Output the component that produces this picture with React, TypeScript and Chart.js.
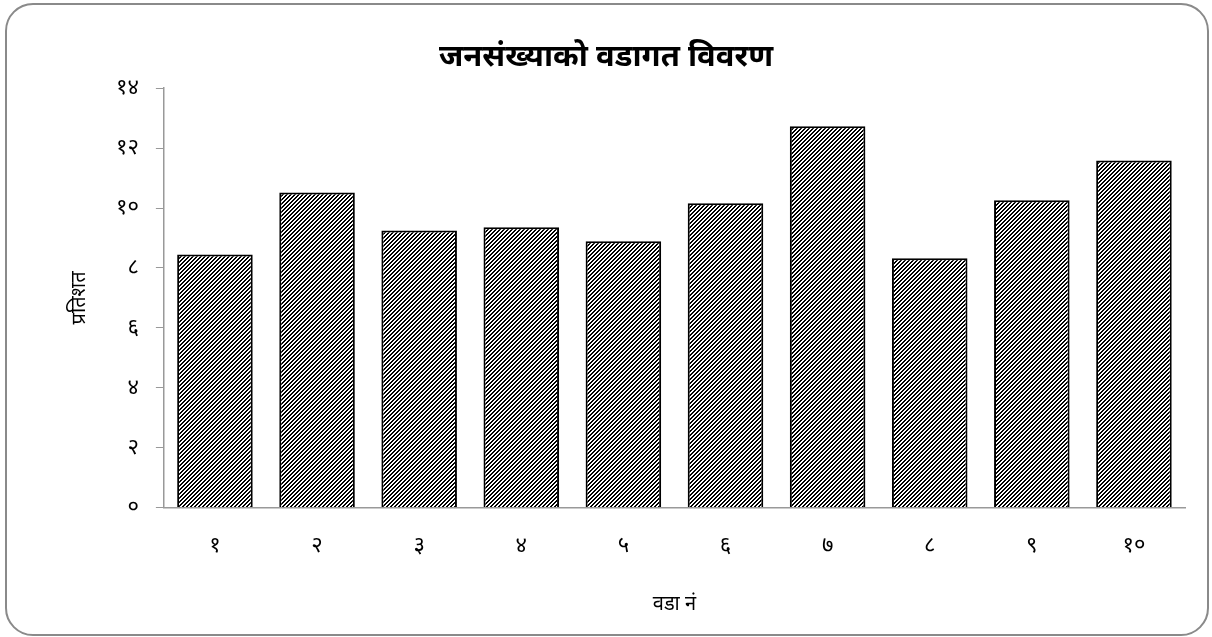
import React, { useEffect, useRef } from "react";
import { Chart, registerables } from "chart.js";

Chart.register(...registerables);

const categories = ["१", "२", "३", "४", "५", "६", "७", "८", "९", "१०"];
const values = [8.45, 10.52, 9.25, 9.36, 8.89, 10.16, 12.73, 8.32, 10.26, 11.59];
const yTicks = [0, 2, 4, 6, 8, 10, 12, 14];
const devDigits = ["०", "१", "२", "३", "४", "५", "६", "७", "८", "९"];
const toDev = (n: number) => String(n).split("").map((c) => devDigits[+c] ?? c).join("");

const FONT = "'Noto Sans', 'DejaVu Sans', sans-serif";

function makePattern(): CanvasPattern | string {
  const c = document.createElement("canvas");
  c.width = 4;
  c.height = 4;
  const g = c.getContext("2d");
  if (!g) return "#000";
  g.fillStyle = "#fff";
  g.fillRect(0, 0, 4, 4);
  g.fillStyle = "#000";
  for (let x = 0; x < 4; x++) {
    for (let y = 0; y < 4; y++) {
      if ((x + y) % 4 < 2) g.fillRect(x, y, 1, 1);
    }
  }
  const p = g.createPattern(c, "repeat");
  return p || "#000";
}

export default function App() {
  const ref = useRef<HTMLCanvasElement | null>(null);
  useEffect(() => {
    document.body.style.margin = "0";
    if (!ref.current) return;
    const chart = new Chart(ref.current, {
      type: "bar",
      data: {
        labels: categories,
        datasets: [
          {
            data: values,
            backgroundColor: makePattern() as any,
            borderColor: "#000",
            borderWidth: 2,
            barPercentage: 0.74,
            categoryPercentage: 1,
          },
        ],
      },
      options: {
        animation: false,
        responsive: false,
        layout: { padding: { left: 20, right: 22, top: 10, bottom: 14 } },
        plugins: {
          legend: { display: false },
          tooltip: { enabled: false },
          title: {
            display: true,
            text: "जनसंख्याको वडागत विवरण",
            color: "#000",
            font: { family: FONT, size: 31, weight: "bold" },
            padding: { top: 24, bottom: 12 },
          },
        },
        scales: {
          x: {
            grid: { display: false, drawTicks: false },
            border: { color: "#999", width: 1.5 },
            ticks: { color: "#000", font: { family: FONT, size: 22 }, padding: 25 },
            title: {
              display: true,
              text: "वडा नं",
              color: "#000",
              font: { family: FONT, size: 20, weight: "normal" },
              padding: { top: 8 },
            },
          },
          y: {
            min: 0,
            max: 14,
            afterBuildTicks: (axis: any) => {
              axis.ticks = yTicks.map((v) => ({ value: v }));
            },
            grid: { display: true, drawOnChartArea: false, drawTicks: true, tickLength: 8, color: "#999" },
            border: { color: "#999", width: 1.5 },
            ticks: {
              color: "#000",
              font: { family: FONT, size: 22 },
              padding: 17,
              callback: (v: any) => toDev(Number(v)),
            },
            title: {
              display: true,
              text: "प्रतिशत",
              color: "#000",
              font: { family: FONT, size: 20, weight: "normal" },
              padding: { top: 40, bottom: 8 },
            },
          },
        },
      },
    });
    return () => chart.destroy();
  }, []);
  return (
    <div
      style={{
        position: "absolute",
        left: 5,
        top: 3,
        width: 1200,
        height: 629,
        border: "2px solid #8a8a8a",
        borderRadius: 28,
        background: "#fff",
        overflow: "hidden",
      }}
    >
      <canvas ref={ref} width={1200} height={629} />
    </div>
  );
}
